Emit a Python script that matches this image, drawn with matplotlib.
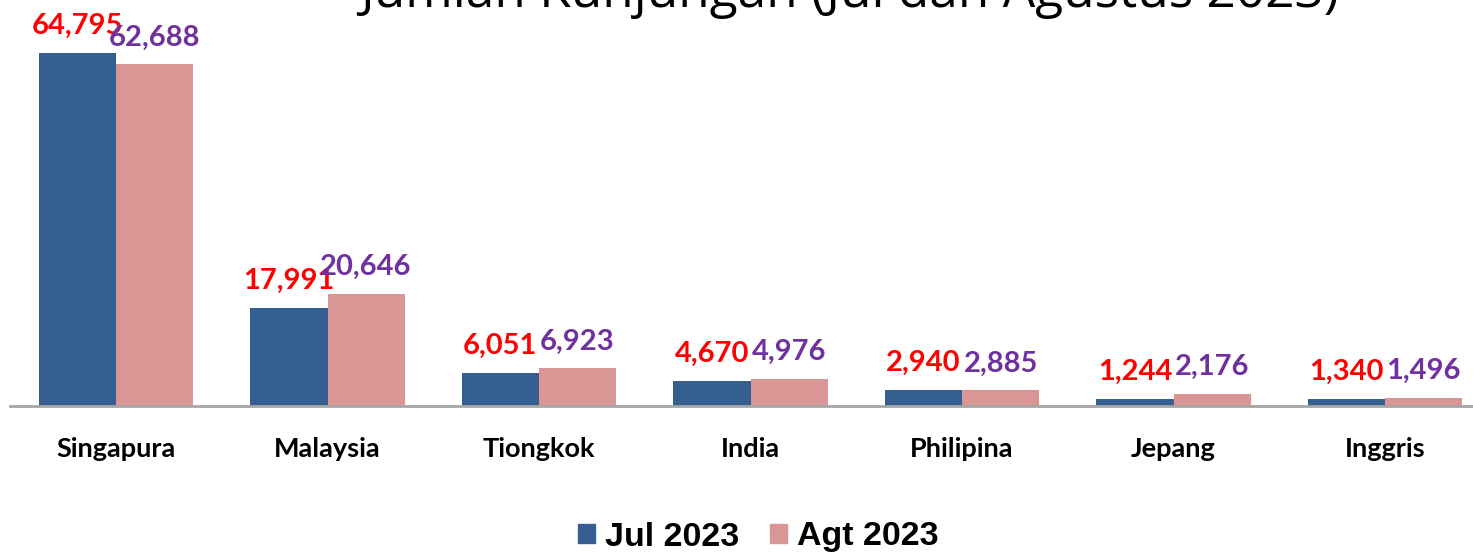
import matplotlib
matplotlib.use("Agg")
import matplotlib.pyplot as plt
import numpy as np
from matplotlib.patches import Circle, Rectangle

categories = ["Singapura", "Malaysia", "Tiongkok", "India", "Philipina", "Jepang", "Inggris"]
jul_2023 = [64795, 17991, 6051, 4670, 2940, 1244, 1340]
agt_2023 = [62688, 20646, 6923, 4976, 2885, 2176, 1496]
series_names = ["Jul 2023", "Agt 2023"]
title = "Jumlah Kunjungan (Jul dan Agustus 2023)"

W, H = 1473, 552
fig = plt.figure(figsize=(W / 100, H / 100), dpi=100)

# green decorative circle top-left
circ = Circle((-0.005, 1.1), 0.035, transform=fig.transFigure, facecolor="#006633",
              edgecolor="none", zorder=0)
fig.patches.append(circ)

ax_left = 10.25 / W
ax_w = 1480.5 / W
ax_bottom = (H - 406) / H
ax_h = 406 / H
ax = fig.add_axes([ax_left, ax_bottom, ax_w, ax_h])

blue = "#365F91"
pink = "#D99694"
x = np.arange(len(categories))
bw = 0.365
b1 = ax.bar(x - bw / 2, jul_2023, bw, color=blue, edgecolor="none", zorder=2)
b2 = ax.bar(x + bw / 2, agt_2023, bw, color=pink, edgecolor="none", zorder=2)

ax.set_xlim(-0.5, len(categories) - 0.5)
ax.set_ylim(0, 74524)

for s in ["top", "right", "left"]:
    ax.spines[s].set_visible(False)
ax.spines["bottom"].set_color("#A6A6A6")
ax.spines["bottom"].set_linewidth(2)
ax.set_yticks([])
ax.set_xticks(x)
ax.set_xticklabels(categories, fontsize=19.5, fontweight="bold", family="Lato")
ax.tick_params(axis="x", length=0, pad=22)

for rect, v in zip(b1, jul_2023):
    ax.annotate(f"{v:,}", (rect.get_x() + rect.get_width() / 2, v), xytext=(0, 10),
                textcoords="offset points", ha="center", va="bottom",
                fontsize=21, fontweight="bold", color="#FF0000", family="Lato",
                annotation_clip=False)
for rect, v in zip(b2, agt_2023):
    ax.annotate(f"{v:,}", (rect.get_x() + rect.get_width() / 2, v), xytext=(0, 10),
                textcoords="offset points", ha="center", va="bottom",
                fontsize=21, fontweight="bold", color="#7030A0", family="Lato",
                annotation_clip=False)

fig.text(850 / W, 1 - 7 / H, title, ha="center", va="baseline", fontsize=37,
         family="Open Sans", color="black")

leg = fig.legend([Rectangle((0, 0), 1, 1, color=blue), Rectangle((0, 0), 1, 1, color=pink)],
                 series_names, loc="center", bbox_to_anchor=(758 / W, 1 - 537 / H),
                 ncol=2, frameon=False, handlelength=0.5, handleheight=0.5,
                 handletextpad=0.3, columnspacing=0.9,
                 prop={"family": "Liberation Sans", "weight": "bold", "size": 24.5})

fig.savefig("out.png", dpi=100)
